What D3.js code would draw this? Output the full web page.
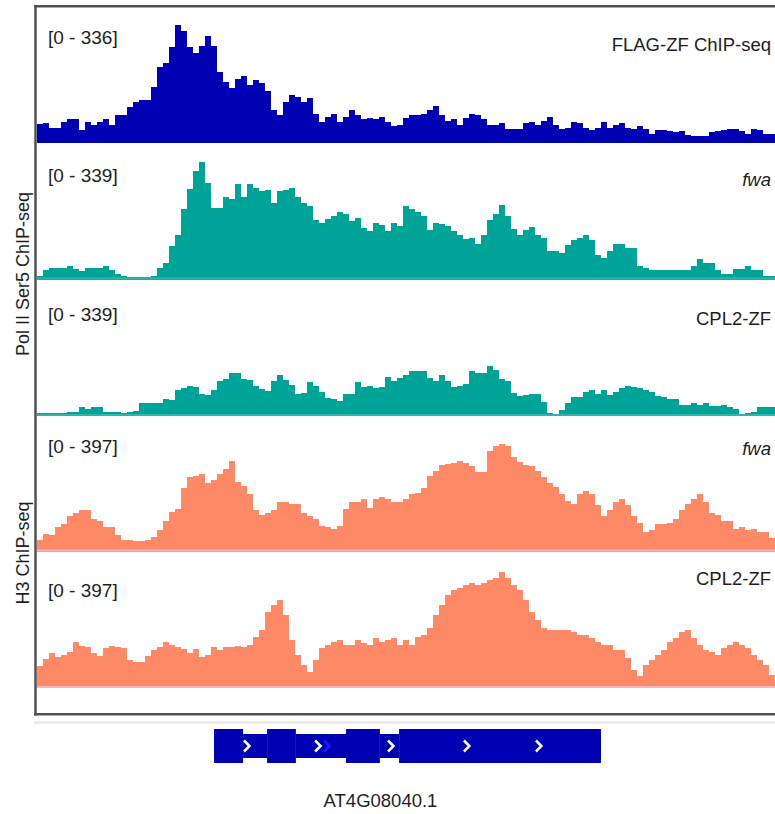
<!DOCTYPE html>
<html>
<head>
<meta charset="utf-8">
<script src="https://cdn.jsdelivr.net/npm/d3@7"></script>
<style>
  body { margin: 0; background: #fff; }
  svg text { font-family: "Liberation Sans", Arial, sans-serif; fill: #1e1e1e; }
</style>
</head>
<body>
<div id="chart"></div>
<script>
// coverage, one value per 20 bp bin
const binSize = 20;

const flagZf = [53,56,44,44,59,67,67,36,59,50, 59,67,50,79,79,102,116,122,122,160,
  216,227,273,336,318,272,255,276,305,276, 202,173,156,182,190,164,179,170,147,93,
  79,116,136,130,116,127,84,59,73,84, 59,73,93,79,67,70,67,73,59,47,
  50,70,79,79,84,93,104,79,64,67, 50,70,84,79,67,50,50,56,41,41,
  41,56,61,50,64,73,50,39,44,59, 56,44,36,44,61,44,50,56,44,41,
  47,39,27,36,36,33,30,33,24,19, 21,19,30,33,36,41,41,33,27,41,
  36,27,27];

const pol2Fwa = [11,28,34,34,34,40,31,23,34,34, 34,40,28,17,11,6,6,6,6,11,
  34,48,97,128,202,259,311,339,276,205, 205,237,231,274,237,274,262,254,258,220,
  254,257,262,237,219,211,171,162,174,182, 194,188,168,177,148,140,162,157,140,162,
  154,211,202,194,182,143,162,160,154,140, 128,117,120,103,128,171,188,214,182,145,
  128,143,151,128,120,83,83,77,100,114, 120,128,114,71,63,83,103,103,91,91,
  40,34,28,28,28,28,28,28,26,40, 60,48,48,28,17,17,31,31,40,28,
  28,11,11];

const pol2Cpl2 = [9,9,9,9,8,11,11,26,20,26, 26,11,11,11,9,11,14,37,37,37,
  37,48,46,74,80,86,83,63,60,74, 100,105,123,123,105,103,86,77,71,100,
  117,103,88,63,66,97,86,68,51,48, 43,63,63,97,83,86,80,83,111,100,
  108,117,128,128,128,108,100,117,100,83, 86,91,128,123,123,143,131,105,100,66,
  57,60,63,63,40,9,6,17,37,54, 54,68,74,63,74,60,68,80,86,83,
  80,74,68,57,54,48,48,31,31,37, 31,37,28,28,31,26,20,6,9,11,
  26,26,26];

const h3Fwa = [40,60,54,84,91,118,128,141,141,111, 101,81,81,57,40,40,37,37,40,50,
  74,104,134,144,215,249,255,262,232,242, 262,279,306,235,222,192,138,124,131,141,
  168,165,161,161,131,121,111,87,81,77, 87,144,165,168,178,148,175,185,175,168,
  168,175,192,198,215,255,272,292,296,299, 306,299,286,269,269,339,356,363,356,319,
  302,292,286,272,252,232,218,192,171,161, 195,205,195,158,121,141,168,175,155,121,
  97,67,74,91,91,97,111,141,161,178, 192,168,131,124,104,104,77,81,74,77,
  67,67,44];

const h3Cpl2 = [74,97,118,104,111,121,155,141,138,118, 108,134,141,138,134,94,87,87,108,128,
  138,155,144,138,131,118,131,104,111,138, 128,138,138,141,138,144,171,195,255,279,
  296,245,161,111,77,54,94,134,144,155, 161,144,144,161,151,144,168,155,161,168,
  144,161,144,171,178,202,245,279,312,329, 336,346,353,346,353,363,370,390,370,346,
  329,296,255,228,202,195,195,195,195,188, 178,178,168,155,144,144,128,128,101,60,
  40,77,94,111,128,155,168,188,195,168, 144,128,121,111,134,144,155,144,134,111,
  94,77,44];

const trackNames = ["FLAG-ZF ChIP-seq", "fwa", "CPL2-ZF", "fwa", "CPL2-ZF"];
const trackRanges = [336, 339, 339, 397, 397];
const groupLabels = ["Pol II Ser5 ChIP-seq", "H3 ChIP-seq"];

// gene model (bp from left edge of view)
const geneName = "AT4G08040.1";
const exons = [[590, 687], [767, 863], [1030, 1143], [1207, 1880]];
const introns = [[687, 767], [863, 1030], [1143, 1207]];
const chevrons = [700, 937, 1180, 1433, 1673];
const chevronsBlue = [967];

const width = 775;
const height = 814;
const dataH = 118;

// layout per track
const tracks = [
  { values: flagZf, base: 143, fill: "#0000b2", line: "#0000b2", rangeY: 44, nameY: 51, italic: false },
  { values: pol2Fwa, base: 279.5, fill: "#00a398", line: "#2fb5ab", rangeY: 182, nameY: 186, italic: true },
  { values: pol2Cpl2, base: 416, fill: "#00a398", line: "#2fb5ab", rangeY: 321, nameY: 325, italic: false },
  { values: h3Fwa, base: 551.5, fill: "#fe8966", line: "#ffb2b2", rangeY: 453, nameY: 455, italic: true },
  { values: h3Cpl2, base: 688, fill: "#fe8966", line: "#ffb2b2", rangeY: 597, nameY: 585, italic: false }
];

const svg = d3.select("#chart")
  .append("svg")
  .attr("width", width)
  .attr("height", height);

const x = d3.scaleLinear()
  .domain([0, flagZf.length * binSize])
  .range([37, 775]);

// Tracks
tracks.forEach((t, k) => {
  const y = d3.scaleLinear()
    .domain([0, trackRanges[k]])
    .range([t.base, t.base - dataH]);

  const pts = t.values.concat([t.values[t.values.length - 1]]);
  const area = d3.area()
    .x((d, i) => x(i * binSize))
    .y0(t.base)
    .y1(d => y(d))
    .curve(d3.curveStepAfter);

  svg.append("path")
    .datum(pts)
    .attr("d", area)
    .attr("fill", t.fill)
    .attr("shape-rendering", "crispEdges");

  // baseline
  svg.append("line")
    .attr("x1", x(0)).attr("x2", width)
    .attr("y1", t.base - 1).attr("y2", t.base - 1)
    .attr("stroke", t.line)
    .attr("stroke-width", 2);

  svg.append("text")
    .attr("x", 48)
    .attr("y", t.rangeY)
    .style("font-size", "19px")
    .text(`[0 - ${trackRanges[k]}]`);

  svg.append("text")
    .attr("x", 771)
    .attr("y", t.nameY)
    .attr("text-anchor", "end")
    .style("font-size", "18.5px")
    .style("font-style", t.italic ? "italic" : "normal")
    .text(trackNames[k]);
});

// Frame
svg.append("line")
  .attr("x1", 35.5).attr("x2", 35.5).attr("y1", 5).attr("y2", 715.5)
  .attr("stroke", "#505050").attr("stroke-width", 2.5);
svg.append("line")
  .attr("x1", 34).attr("x2", width).attr("y1", 6.2).attr("y2", 6.2)
  .attr("stroke", "#505050").attr("stroke-width", 2.5);
svg.append("line")
  .attr("x1", 34).attr("x2", width).attr("y1", 714.3).attr("y2", 714.3)
  .attr("stroke", "#505050").attr("stroke-width", 2.5);
svg.append("line")
  .attr("x1", 34).attr("x2", width).attr("y1", 722.5).attr("y2", 722.5)
  .attr("stroke", "#ececec").attr("stroke-width", 3);

// Group labels (rotated)
const groupCenters = [274, 553];
groupLabels.forEach((g, k) => {
  svg.append("text")
    .attr("transform", `translate(29,${groupCenters[k]}) rotate(-90)`)
    .attr("text-anchor", "middle")
    .style("font-size", "18px")
    .text(g);
});

// Gene model
const geneY = 746;
svg.selectAll("rect.intron")
  .data(introns)
  .join("rect")
  .attr("class", "intron")
  .attr("x", d => x(d[0]))
  .attr("y", geneY - 12)
  .attr("width", d => x(d[1]) - x(d[0]))
  .attr("height", 24)
  .attr("fill", "#0000b2");

svg.selectAll("rect.exon")
  .data(exons)
  .join("rect")
  .attr("class", "exon")
  .attr("x", d => x(d[0]))
  .attr("y", geneY - 17)
  .attr("width", d => x(d[1]) - x(d[0]))
  .attr("height", 34)
  .attr("fill", "#0000b2");

const chev = d => `M${x(d) - 3},${geneY - 5.5}L${x(d) + 2.5},${geneY}L${x(d) - 3},${geneY + 5.5}`;

svg.selectAll("path.chev")
  .data(chevrons)
  .join("path")
  .attr("class", "chev")
  .attr("d", chev)
  .attr("fill", "none")
  .attr("stroke", "#fff")
  .attr("stroke-width", 2.5);

svg.selectAll("path.chevb")
  .data(chevronsBlue)
  .join("path")
  .attr("class", "chevb")
  .attr("d", chev)
  .attr("fill", "none")
  .attr("stroke", "#1a1aff")
  .attr("stroke-width", 2.5);

svg.append("text")
  .attr("x", 380.5)
  .attr("y", 807)
  .attr("text-anchor", "middle")
  .style("font-size", "18.5px")
  .text(geneName);
</script>
</body>
</html>
